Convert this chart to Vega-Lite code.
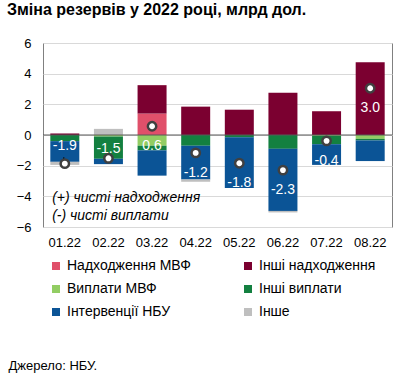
{
  "$schema": "https://vega.github.io/schema/vega-lite/v6.json",
  "autosize": {"type": "none"},
  "width": 349,
  "height": 184,
  "padding": {"left": 43, "top": 43, "right": 19, "bottom": 155},
  "background": "white",
  "config": {
    "font": "Liberation Sans",
    "view": {"stroke": "#808080", "strokeWidth": 1},
    "axisY": {
      "labelOverlap": false,
      "labelFontSize": 13,
      "labelColor": "#000000",
      "labelPadding": 12,
      "ticks": false,
      "domain": false,
      "gridColor": "#D9D9D9",
      "gridWidth": 1,
      "titleFontSize": 0
    }
  },
  "title": {
    "text": "Зміна резервів у 2022 році, млрд дол.",
    "anchor": "start",
    "frame": "group",
    "dx": -36,
    "offset": 19,
    "fontSize": 16,
    "fontWeight": "bold",
    "color": "#000000",
    "font": "Liberation Sans"
  },
  "datasets": {
    "flows": [
      {"month": "01.22", "cat": "Інші надходження", "value": 0.1},
      {"month": "01.22", "cat": "Інші виплати", "value": -0.4},
      {"month": "01.22", "cat": "Інтервенції НБУ", "value": -1.35},
      {"month": "01.22", "cat": "Інше", "value": -0.2},
      {"month": "02.22", "cat": "Інше", "value": 0.4},
      {"month": "02.22", "cat": "Виплати МВФ", "value": -0.1},
      {"month": "02.22", "cat": "Інші виплати", "value": -1.45},
      {"month": "02.22", "cat": "Інтервенції НБУ", "value": -0.35},
      {"month": "03.22", "cat": "Надходження МВФ", "value": 1.4},
      {"month": "03.22", "cat": "Інші надходження", "value": 1.85},
      {"month": "03.22", "cat": "Виплати МВФ", "value": -0.7},
      {"month": "03.22", "cat": "Інші виплати", "value": -0.3},
      {"month": "03.22", "cat": "Інтервенції НБУ", "value": -1.65},
      {"month": "04.22", "cat": "Інші надходження", "value": 1.85},
      {"month": "04.22", "cat": "Інші виплати", "value": -0.7},
      {"month": "04.22", "cat": "Інтервенції НБУ", "value": -2.2},
      {"month": "04.22", "cat": "Інше", "value": -0.15},
      {"month": "05.22", "cat": "Інші надходження", "value": 1.65},
      {"month": "05.22", "cat": "Інші виплати", "value": -0.15},
      {"month": "05.22", "cat": "Інтервенції НБУ", "value": -3.3},
      {"month": "06.22", "cat": "Інші надходження", "value": 2.75},
      {"month": "06.22", "cat": "Інші виплати", "value": -0.9},
      {"month": "06.22", "cat": "Інтервенції НБУ", "value": -4.05},
      {"month": "06.22", "cat": "Інше", "value": -0.1},
      {"month": "07.22", "cat": "Інші надходження", "value": 1.55},
      {"month": "07.22", "cat": "Виплати МВФ", "value": -0.05},
      {"month": "07.22", "cat": "Інші виплати", "value": -0.55},
      {"month": "07.22", "cat": "Інтервенції НБУ", "value": -1.35},
      {"month": "08.22", "cat": "Інші надходження", "value": 4.75},
      {"month": "08.22", "cat": "Виплати МВФ", "value": -0.25},
      {"month": "08.22", "cat": "Інші виплати", "value": -0.1},
      {"month": "08.22", "cat": "Інтервенції НБУ", "value": -1.35}
    ],
    "net": [
      {"month": "01.22", "net": -1.87, "label": "-1.9"},
      {"month": "02.22", "net": -1.52, "label": "-1.5"},
      {"month": "03.22", "net": 0.57, "label": "0.6"},
      {"month": "04.22", "net": -1.17, "label": "-1.2"},
      {"month": "05.22", "net": -1.84, "label": "-1.8"},
      {"month": "06.22", "net": -2.29, "label": "-2.3"},
      {"month": "07.22", "net": -0.38, "label": "-0.4"},
      {"month": "08.22", "net": 3.05, "label": "3.0"}
    ]
  },
  "layer": [
    {
      "data": {"name": "flows"},
      "transform": [
        {"calculate": "indexof(['Надходження МВФ','Інші надходження','Виплати МВФ','Інші виплати','Інтервенції НБУ','Інше'], datum.cat)", "as": "ord"}
      ],
      "mark": {"type": "bar", "size": 29},
      "encoding": {
        "x": {
          "field": "month", "type": "ordinal", "sort": null,
          "axis": {
            "title": "Джерело: НБУ.",
            "titleAnchor": "start",
            "titleAlign": "left",
            "titleX": -35,
            "titleY": 138,
            "titleBaseline": "middle",
            "titleFontSize": 13,
            "titleFontWeight": "normal",
            "titleColor": "#000000",
            "labelAngle": 0,
            "labelFontSize": 13,
            "labelColor": "#000000",
            "labelPadding": 9,
            "ticks": false,
            "domain": false
          }
        },
        "y": {
          "field": "value", "type": "quantitative", "stack": "zero",
          "scale": {"domain": [-6, 6], "nice": false},
          "axis": {"title": "", "values": [-6, -4, -2, 0, 2, 4, 6]}
        },
        "color": {
          "field": "cat", "type": "nominal",
          "scale": {
            "domain": ["Надходження МВФ", "Інші надходження", "Виплати МВФ", "Інші виплати", "Інтервенції НБУ", "Інше"],
            "range": ["#E0506A", "#7B0030", "#92CD63", "#138040", "#0B5496", "#BFBFBF"]
          },
          "legend": {
            "title": null,
            "orient": "none",
            "direction": "horizontal",
            "legendX": 6,
            "legendY": 216,
            "columns": 2,
            "columnPadding": 50,
            "rowPadding": 9,
            "symbolType": "square",
            "symbolSize": 64,
            "symbolStrokeWidth": 0,
            "labelFontSize": 14,
            "labelColor": "#000000",
            "labelOffset": 4
          }
        },
        "order": {"field": "ord", "type": "quantitative"}
      }
    },
    {
      "data": {"values": [{"v": 0}]},
      "mark": {"type": "rule", "color": "#595959", "strokeWidth": 1},
      "encoding": {"y": {"field": "v", "type": "quantitative", "scale": {"domain": [-6, 6], "nice": false}, "axis": {"title": "", "values": [-6, -4, -2, 0, 2, 4, 6]}}}
    },
    {
      "data": {"values": [{"month": "01.22", "y1": -1.45, "y2": -1.8}]},
      "mark": {"type": "rule", "color": "#000000", "strokeWidth": 1, "xOffset": -1},
      "encoding": {
        "x": {"field": "month", "type": "ordinal", "sort": null},
        "y": {"field": "y1", "type": "quantitative", "scale": {"domain": [-6, 6], "nice": false}, "axis": {"title": "", "values": [-6, -4, -2, 0, 2, 4, 6]}},
        "y2": {"field": "y2"}
      }
    },
    {
      "data": {"name": "net"},
      "mark": {"type": "point", "filled": true, "fill": "white", "stroke": "#404040", "strokeWidth": 2.5, "size": 70, "opacity": 1},
      "encoding": {
        "x": {"field": "month", "type": "ordinal", "sort": null},
        "y": {"field": "net", "type": "quantitative", "scale": {"domain": [-6, 6], "nice": false}, "axis": {"title": "", "values": [-6, -4, -2, 0, 2, 4, 6]}}
      }
    },
    {
      "data": {"name": "net"},
      "transform": [{"filter": "datum.month == '01.22'"}],
      "mark": {"type": "text", "color": "white", "fontSize": 14, "dy": -18},
      "encoding": {
        "x": {"field": "month", "type": "ordinal", "sort": null},
        "y": {"field": "net", "type": "quantitative", "scale": {"domain": [-6, 6], "nice": false}, "axis": {"title": "", "values": [-6, -4, -2, 0, 2, 4, 6]}},
        "text": {"field": "label"}
      }
    },
    {
      "data": {"name": "net"},
      "transform": [{"filter": "datum.month == '02.22'"}],
      "mark": {"type": "text", "color": "white", "fontSize": 14, "dy": -9},
      "encoding": {
        "x": {"field": "month", "type": "ordinal", "sort": null},
        "y": {"field": "net", "type": "quantitative", "scale": {"domain": [-6, 6], "nice": false}, "axis": {"title": "", "values": [-6, -4, -2, 0, 2, 4, 6]}},
        "text": {"field": "label"}
      }
    },
    {
      "data": {"name": "net"},
      "transform": [{"filter": "datum.month != '01.22' && datum.month != '02.22'"}],
      "mark": {"type": "text", "color": "white", "fontSize": 14, "dy": 20},
      "encoding": {
        "x": {"field": "month", "type": "ordinal", "sort": null},
        "y": {"field": "net", "type": "quantitative", "scale": {"domain": [-6, 6], "nice": false}, "axis": {"title": "", "values": [-6, -4, -2, 0, 2, 4, 6]}},
        "text": {"field": "label"}
      }
    },
    {
      "data": {"values": [{"t": "(+) чисті надходження", "y": -4.1}, {"t": "(-) чисті виплати", "y": -5.3}]},
      "mark": {"type": "text", "align": "left", "fontSize": 14, "fontStyle": "italic", "color": "#000000", "dx": 7},
      "encoding": {
        "x": {"datum": "01.22", "bandPosition": 0},
        "y": {"field": "y", "type": "quantitative", "scale": {"domain": [-6, 6], "nice": false}, "axis": {"title": "", "values": [-6, -4, -2, 0, 2, 4, 6]}},
        "text": {"field": "t"}
      }
    }
  ]
}
